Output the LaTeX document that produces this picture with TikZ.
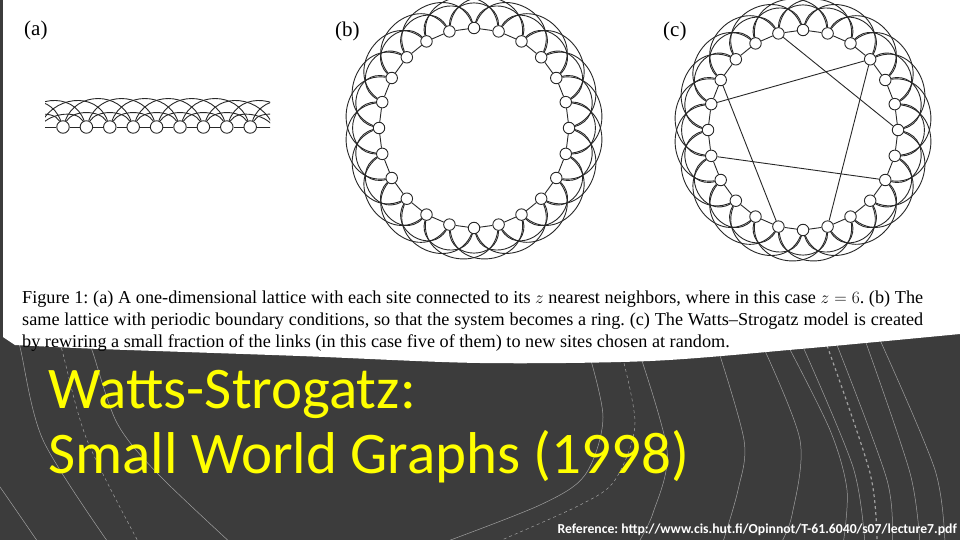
\documentclass[tikz,border=0pt]{standalone}
\usepackage{fontspec}
\setmainfont{Liberation Serif}
\newfontfamily\slidefont{Carlito}
\usetikzlibrary{positioning}
\definecolor{slideGray}{RGB}{60,60,60}
\definecolor{titleYellow}{RGB}{255,255,0}
\definecolor{decoGray}{RGB}{160,160,160}
\definecolor{inkColor}{RGB}{40,40,40}
\frenchspacing

\begin{document}
\begin{tikzpicture}[x=1pt,y=1pt,
  site/.style={circle,draw=inkColor,fill=white,line width=0.9pt,inner sep=0pt,minimum size=11.5pt},
  link/.style={draw=inkColor,line width=0.9pt},
  deco/.style={draw=decoGray,line width=0.5pt},
  decodash/.style={deco,dashed},
  panel/.style={inner sep=0pt,anchor=base west,font=\fontsize{21}{23}\selectfont},
  capline/.style={inner sep=0pt,anchor=base west,font=\fontsize{18.2}{22}\selectfont}]
\useasboundingbox (0,0) rectangle (960,-540);
\fill [slideGray] (0,0) rectangle (960,-540);

% theme arcs
\draw [deco] plot [smooth] coordinates {(12,-320) (20,-347) (43,-440) (110,-545)};
\draw [decodash] plot [smooth] coordinates {(55,-325) (62,-350) (87,-440) (140,-545)};
\draw [deco] plot [smooth] coordinates {(85,-330) (93,-353) (117,-423) (157,-473) (233,-545)};
\draw [deco] plot [smooth] coordinates {(-10,-475) (0,-487) (40,-545)};
\draw [deco] plot [smooth] coordinates {(585,-340) (603,-417) (585,-475) (540,-505) (437,-545)};
\draw [decodash] plot [smooth] coordinates {(618,-340) (635,-423) (615,-480) (580,-505) (490,-545)};
\draw [deco] plot [smooth] coordinates {(635,-340) (667,-450) (653,-513) (637,-545)};
\draw [deco] plot [smooth] coordinates {(715,-340) (744,-440) (738,-490) (722,-545)};
\draw [deco] plot [smooth] coordinates {(760,-340) (800,-440) (792,-515) (780,-545)};
\draw [deco] plot [smooth] coordinates {(785,-340) (830,-430) (847,-490) (843,-545)};
\draw [deco] plot [smooth] coordinates {(800,-340) (853,-467) (865,-545)};
\draw [decodash, line width=1.2pt] plot [smooth] coordinates {(825,-340) (870,-473) (877,-545)};
\draw [deco] plot [smooth] coordinates {(835,-340) (887,-480) (892,-545)};
\draw [deco] plot [smooth] coordinates {(865,-340) (910,-473) (920,-545)};
\draw [deco] plot [smooth] coordinates {(880,-340) (935,-470) (945,-545)};

% scanned page
\fill [white] (3,0) -- (3,-337) -- plot [smooth] coordinates {(15,-345) (100,-349) (300,-356) (480,-363) (650,-361) (800,-349) (960,-334)} -- (960,0) -- cycle;

% (a) lattice
\node [panel] (labA) at (24,-36) {(a)};
\foreach \i in {3,...,11}
  \node [site, minimum size=12.5pt] (a\i) at (-7.2+23.4*\i,-127) {};
\foreach \i in {0,1,2,12,13,14}
  \coordinate (a\i) at (-7.2+23.4*\i,-127);
\begin{scope}
\clip (45,-80) rectangle (270,-140);
\foreach \i [evaluate=\i as \j using {int(\i+1)}] in {2,...,11}
  \draw [link] (a\i) -- (a\j);
\foreach \i [evaluate=\i as \j using {int(\i+2)}] in {0,...,12}
  \draw [link] (a\i) to [out=60,in=120,looseness=0.85] (a\j);
\foreach \i [evaluate=\i as \j using {int(\i+3)}] in {0,...,11}
  \draw [link] (a\i) to [out=70,in=110,looseness=1.23] (a\j);
\end{scope}

% (b) ring
\node [panel] (labB) at (335,-37) {(b)};
\begin{scope}[shift={(474,-128)}]
\foreach \k in {0,...,23}
  \node [site] (b\k) at ({90-15*\k}:95 and 100) {};
\end{scope}
\foreach \k [evaluate=\k as \kA using {int(mod(\k+1,24))},
             evaluate=\k as \kB using {int(mod(\k+2,24))},
             evaluate=\k as \kC using {int(mod(\k+3,24))},
             evaluate=\k as \mB using {75-15*\k},
             evaluate=\k as \mC using {67.5-15*\k}] in {0,...,23} {
  \draw [link] (b\k) -- (b\kA);
  \draw [link] (b\k) to [out=\mB,in=\mB,looseness=1.55] (b\kB);
  \draw [link] (b\k) to [out=\mC,in=\mC,looseness=1.55] (b\kC);
}

% (c) rewired ring
\node [panel] (labC) at (663,-37) {(c)};
\begin{scope}[shift={(803,-130)}]
\foreach \k in {0,...,23}
  \node [site] (c\k) at ({90-15*\k}:95 and 100) {};
\end{scope}
\foreach \k [evaluate=\k as \kA using {int(mod(\k+1,24))},
             evaluate=\k as \kB using {int(mod(\k+2,24))},
             evaluate=\k as \kC using {int(mod(\k+3,24))},
             evaluate=\k as \mB using {75-15*\k},
             evaluate=\k as \mC using {67.5-15*\k}] in {0,...,23} {
  \draw [link] (c\k) -- (c\kA);
  \draw [link] (c\k) to [out=\mB,in=\mB,looseness=1.55] (c\kB);
  \draw [link] (c\k) to [out=\mC,in=\mC,looseness=1.55] (c\kC);
}
\draw [link] (c23) -- (c6);
\draw [link] (c3) -- (c19);
\draw [link] (c3) -- (c11);
\draw [link] (c20) -- (c13);
\draw [link] (c17) -- (c8);

% caption
\node [capline] (capA) at (22,-303) {\makebox[901pt][s]{Figure 1: (a) A one-dimensional lattice with each site connected to its $z$ nearest neighbors, where in this case $z=6$. (b) The}};
\node [capline] (capB) at (22,-325) {\makebox[901pt][s]{same lattice with periodic boundary conditions, so that the system becomes a ring. (c) The Watts--Strogatz model is created}};
\node [capline] (capC) at (22,-347) {by rewiring a small fraction of the links (in this case five of them) to new sites chosen at random.};

% slide title
\node [inner sep=0pt, anchor=base west, text=titleYellow, font=\slidefont\fontsize{59}{63}\selectfont] (titleA) at (48,-408) {Watts-Strogatz:};
\node [inner sep=0pt, anchor=base west, text=titleYellow, font=\slidefont\fontsize{59}{63}\selectfont] (titleB) at (48,-473) {Small World Graphs (1998)};
\node [inner sep=0pt, anchor=base east, text=white, font=\slidefont\bfseries\fontsize{13.7}{15}\selectfont] (refNote) at (957,-533) {Reference: http://www.cis.hut.fi/Opinnot/T-61.6040/s07/lecture7.pdf};
\end{tikzpicture}
\end{document}
